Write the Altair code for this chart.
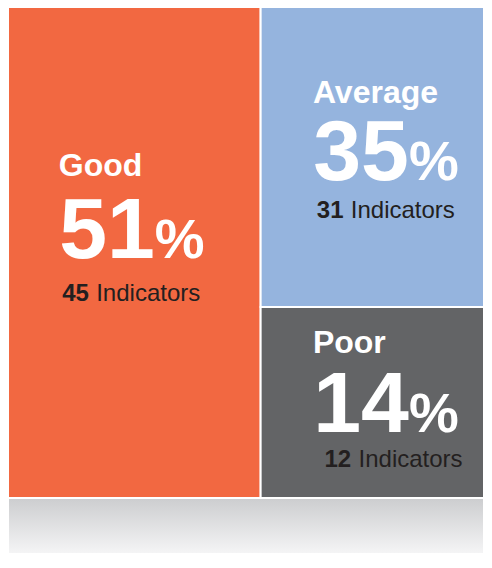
import altair as alt
import pandas as pd

# ---- data ----
categories = ["Good", "Average", "Poor"]
percents = [51, 35, 14]
indicators = [45, 31, 12]
colors = ["#F26841", "#95B4DE", "#636466"]

# treemap cell layout on a grid (x left->right, y top->bottom)
cell_x0 = [0, 52.2, 52.2]
cell_x1 = [52.2, 98.35, 98.35]
cell_y0 = [-0.5, -0.5, 53.4]
cell_y1 = [87.5, 53.4, 87.5]
text_x = [10.5, 63.0, 63.0]
ind_x = [11.2, 63.8, 65.4]
label_y = [30.0, 17.0, 61.6]
pct_y = [44.6, 30.7, 75.7]
ind_y = [52.3, 37.5, 82.0]

shadow_y = [87.5, 97.5]

df = pd.DataFrame({
    "category": categories,
    "pct": [str(p) for p in percents],
    "ind": [str(i) for i in indicators],
    "color": colors,
    "x0": cell_x0, "x1": cell_x1, "y0": cell_y0, "y1": cell_y1,
    "tx": text_x, "ix": ind_x, "ly": label_y, "py": pct_y, "iy": ind_y,
})
shadow = pd.DataFrame({"x0": [0], "x1": [98.35], "y0": [shadow_y[0]], "y1": [shadow_y[1]]})

FONT = "Liberation Sans"
xs = alt.Scale(domain=[0, 98.35], nice=False, zero=False)
ys = alt.Scale(domain=[0, 97.5], nice=False, zero=False, reverse=True)

base = alt.Chart(df)

cells = base.mark_rect(stroke="white", strokeWidth=2).encode(
    x=alt.X("x0:Q", scale=xs, axis=None),
    x2="x1:Q",
    y=alt.Y("y0:Q", scale=ys, axis=None),
    y2="y1:Q",
    fill=alt.Fill("color:N", scale=None),
)

shadow_rect = alt.Chart(shadow).mark_rect(
    stroke="white", strokeWidth=2,
    fill=alt.Gradient(
        gradient="linear",
        stops=[alt.GradientStop(color="#CCCDCF", offset=0),
               alt.GradientStop(color="#F5F5F6", offset=1)],
        x1=0, x2=0, y1=0, y2=1,
    ),
).encode(
    x=alt.X("x0:Q", scale=xs, axis=None),
    x2="x1:Q",
    y=alt.Y("y0:Q", scale=ys, axis=None),
    y2="y1:Q",
)

labels = base.mark_text(
    align="left", baseline="alphabetic", font=FONT, fontWeight="bold",
    fontSize=32, color="white",
).encode(x="tx:Q", y="ly:Q", text="category:N")

numbers = base.mark_text(
    align="right", baseline="alphabetic", font=FONT, fontWeight="bold",
    fontSize=86, color="white", dx=96,
).encode(x="tx:Q", y="py:Q", text="pct:N")

pct_sign = base.mark_text(
    align="left", baseline="alphabetic", font=FONT, fontWeight="bold",
    fontSize=56, color="white", dx=96,
).encode(x="tx:Q", y="py:Q", text=alt.value("%"))

ind_num = base.mark_text(
    align="left", baseline="alphabetic", font=FONT, fontWeight="bold",
    fontSize=24, color="#231F20",
).encode(x="ix:Q", y="iy:Q", text="ind:N")

ind_txt = base.mark_text(
    align="left", baseline="alphabetic", font=FONT, fontWeight="normal",
    fontSize=24, color="#231F20", dx=34,
).encode(x="ix:Q", y="iy:Q", text=alt.value("Indicators"))

chart = alt.layer(
    shadow_rect, cells, labels, numbers, pct_sign, ind_num, ind_txt
).properties(
    width=476, height=546, padding=0, autosize="none",
).configure_view(strokeWidth=0)

chart.save("out.html", embed_options={"renderer": "svg", "actions": False})
